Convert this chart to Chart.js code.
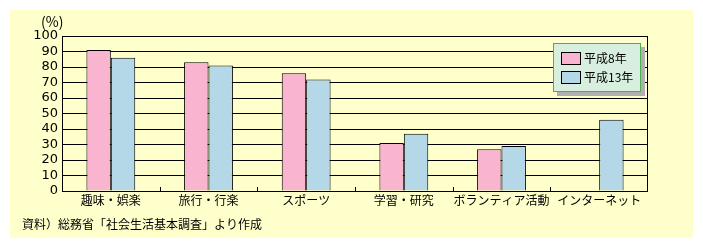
<!DOCTYPE html>
<html>
<head>
<meta charset="utf-8">
<script src="https://cdn.jsdelivr.net/npm/chart.js@4.4.1/dist/chart.umd.min.js"></script>
<style>
  html, body { margin: 0; padding: 0; background: #fff; }
  #wrap { width: 703px; height: 248px; position: relative; }
</style>
</head>
<body>
<div id="wrap"><canvas id="c" width="703" height="248"></canvas></div>
<script>
// data
const categories = ['趣味・娯楽', '旅行・行楽', 'スポーツ', '学習・研究', 'ボランティア活動', 'インターネット'];
const seriesNames = ['平成8年', '平成13年'];
const h8Values = [91, 83, 76, 31, 27, null];
const h13Values = [86, 81, 72, 37, 29, 46];
const yTicks = [0, 10, 20, 30, 40, 50, 60, 70, 80, 90, 100];
const unitLabel = '(%)';
const sourceNote = '資料）総務省「社会生活基本調査」より作成';

const colors = ['#f9b4d0', '#b4d8e8'];
const jpFont = '"Noto Sans CJK JP", "Noto Sans", sans-serif';

// panel, frame, category ticks, unit, legend and source note
const decor = {
    id: 'decor',
    beforeDraw(chart) {
        const ctx = chart.ctx;
        ctx.save();
        ctx.fillStyle = '#ffffcc';
        ctx.fillRect(10, 10, 683, 228);
        ctx.restore();
    },
    afterDraw(chart) {
        const ctx = chart.ctx;
        const a = chart.chartArea;
        const x = chart.scales.x;
        ctx.save();
        ctx.strokeStyle = '#000';
        ctx.lineWidth = 1;
        ctx.strokeRect(Math.round(a.left) + 0.5, Math.round(a.top) + 0.5, Math.round(a.right - a.left) - 1, Math.round(a.bottom - a.top));
        // short ticks between categories
        ctx.beginPath();
        for (let i = 1; i < categories.length; i++) {
            const px = Math.round((x.getPixelForTick(i - 1) + x.getPixelForTick(i)) / 2) + 0.5;
            ctx.moveTo(px, a.bottom);
            ctx.lineTo(px, a.bottom - 4);
        }
        ctx.stroke();

        ctx.fillStyle = '#000';
        ctx.font = '14px ' + jpFont;
        ctx.textBaseline = 'middle';
        ctx.textAlign = 'left';
        ctx.fillText(unitLabel, 41, 22);
        ctx.font = '12px ' + jpFont;
        ctx.fillText(sourceNote, 22, 224);

        // legend box
        const lx = 553, ly = 43, lw = 88, lh = 49;
        ctx.fillStyle = '#b0b0b0';
        ctx.fillRect(lx + 4, ly + 4, lw, lh);
        ctx.fillStyle = '#d8eede';
        ctx.fillRect(lx, ly, lw, lh);
        ctx.strokeStyle = '#4caf50';
        ctx.strokeRect(lx + 0.5, ly + 0.5, lw - 1, lh - 1);
        seriesNames.forEach((name, i) => {
            const sy = 52 + i * 19;
            ctx.fillStyle = colors[i];
            ctx.fillRect(561, sy, 19, 12);
            ctx.strokeStyle = '#000';
            ctx.strokeRect(561.5, sy + 0.5, 19, 12);
            ctx.fillStyle = '#000';
            ctx.fillText(name, 584, sy + 6.5);
        });
        ctx.restore();
    }
};

new Chart(document.getElementById('c'), {
    type: 'bar',
    data: {
        labels: categories,
        datasets: [
            { label: seriesNames[0], data: h8Values, backgroundColor: colors[0], borderColor: '#000', borderWidth: 1 },
            { label: seriesNames[1], data: h13Values, backgroundColor: colors[1], borderColor: '#000', borderWidth: 1 }
        ]
    },
    options: {
        responsive: false,
        animation: false,
        events: [],
        layout: { padding: { left: 0, top: 36, right: 55, bottom: 0 } },
        datasets: { bar: { barPercentage: 1, categoryPercentage: 0.5 } },
        plugins: { legend: { display: false }, tooltip: { enabled: false } },
        scales: {
            x: {
                grid: { display: false, drawTicks: false },
                border: { display: false },
                ticks: { color: '#000', font: { size: 12, family: jpFont }, padding: 2, maxRotation: 0, autoSkip: false },
                afterFit(s) { s.height = 57; }
            },
            y: {
                min: 0,
                max: 100,
                afterBuildTicks(s) { s.ticks = yTicks.map(v => ({ value: v })); },
                grid: { color: '#000', lineWidth: 1, drawTicks: false },
                border: { display: false },
                ticks: { color: '#000', font: { size: 13, family: '"DejaVu Sans", sans-serif' }, padding: 4, autoSkip: false, stepSize: 10 },
                afterFit(s) { s.width = 62; }
            }
        }
    },
    plugins: [decor]
});
</script>
</body>
</html>
